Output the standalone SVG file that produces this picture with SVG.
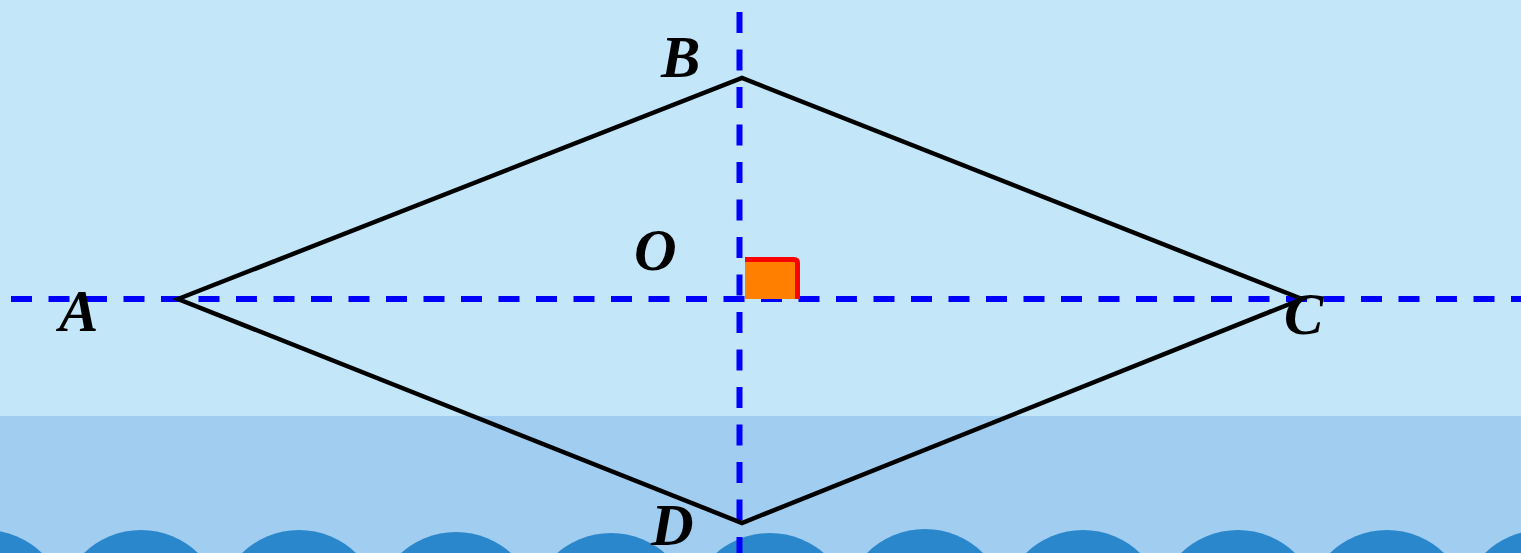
<svg xmlns="http://www.w3.org/2000/svg" width="1521" height="553" viewBox="0 0 1521 553">
<style>
.wave{fill:#2A87CC}
.axis{stroke:#0000FF;stroke-width:6;stroke-dasharray:21 16.5;fill:none}
.edge{stroke:#000;stroke-width:4.5;fill:none;stroke-linejoin:miter}
.lbl{font-family:"Liberation Serif","Times New Roman",serif;font-weight:bold;font-style:italic;font-size:59px;fill:#000}
</style>
<rect x="0" y="0" width="1521" height="553" fill="#C3E6F8"/>
<rect x="0" y="416" width="1521" height="137" fill="#A0CDF0"/>
<g id="waves">
<circle class="wave" cx="-15" cy="612" r="82"/>
<circle class="wave" cx="141" cy="612" r="82"/>
<circle class="wave" cx="299" cy="612" r="82"/>
<circle class="wave" cx="456" cy="614" r="82"/>
<circle class="wave" cx="611" cy="615" r="82"/>
<circle class="wave" cx="770" cy="615" r="82"/>
<circle class="wave" cx="925" cy="611" r="82"/>
<circle class="wave" cx="1083" cy="612" r="82"/>
<circle class="wave" cx="1238" cy="612" r="82"/>
<circle class="wave" cx="1387" cy="612" r="82"/>
<circle class="wave" cx="1542" cy="612" r="82"/>
</g>
<g id="connectors">
<line class="axis" x1="11" y1="299" x2="1521" y2="299"/>
<line class="axis" x1="739.5" y1="12" x2="739.5" y2="553"/>
<polygon class="edge" points="178,299 742,78 1302,299 742,523"/>
</g>
<g id="right-angle">
<rect x="745" y="259" width="52" height="40" fill="#FF8000"/>
<path d="M745,259.5 H794 Q797.5,259.5 797.5,263 V299" fill="none" stroke="#FF0000" stroke-width="5"/>
</g>
<g id="node-A"><text class="lbl" x="59" y="331">A</text></g>
<g id="node-B"><text class="lbl" x="661" y="77">B</text></g>
<g id="node-C"><text class="lbl" x="1284" y="334">C</text></g>
<g id="node-D"><text class="lbl" x="651" y="545">D</text></g>
<g id="node-O"><text class="lbl" x="634" y="270">O</text></g>
</svg>
